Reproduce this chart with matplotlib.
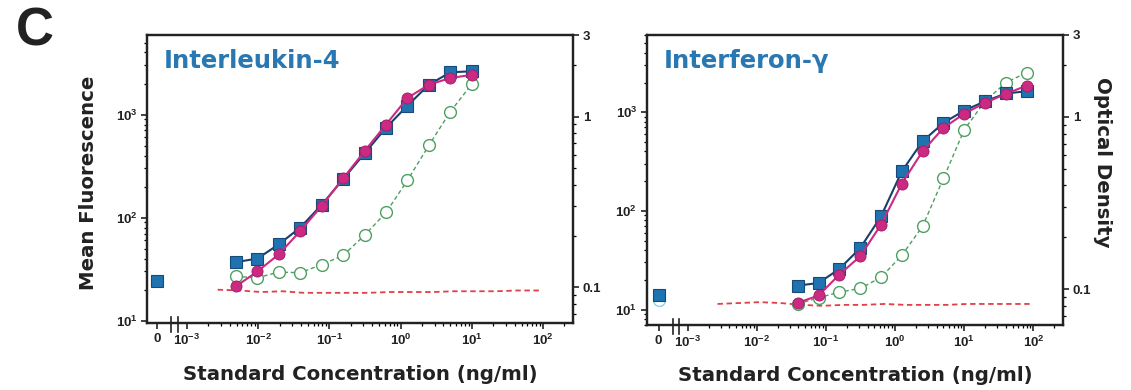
import numpy as np
import matplotlib
matplotlib.use("Agg")
import matplotlib.pyplot as plt
from matplotlib.ticker import FixedLocator, FixedFormatter, NullFormatter

plt.rcParams['font.family'] = ['Liberation Sans', 'DejaVu Sans']
plt.rcParams['mathtext.fontset'] = 'custom'
plt.rcParams['mathtext.rm'] = 'Liberation Sans:bold'
plt.rcParams['mathtext.bf'] = 'Liberation Sans:bold'
plt.rcParams['mathtext.default'] = 'rm'

# ---- Interleukin-4 ----
il4_conc = [0.00488, 0.00977, 0.0195, 0.039, 0.078, 0.156, 0.3125, 0.625, 1.25, 2.5, 5, 10]
il4_mfi_a = [37, 40, 55, 80, 133, 236, 420, 745, 1220, 1950, 2570, 2630]     # blue squares
il4_mfi_b = [21.5, 30, 44, 74, 130, 240, 442, 800, 1450, 1950, 2260, 2430]   # magenta circles
il4_od = [0.116, 0.114, 0.123, 0.122, 0.136, 0.154, 0.202, 0.275, 0.424, 0.68, 1.07, 1.55]
il4_zero_mfi = 24.3
blank_conc = [0.0027, 0.0055, 0.011, 0.022, 0.044, 0.088, 0.18, 0.35, 0.7, 1.4, 2.8, 5.6, 11, 22, 44, 88]
il4_blank_od = [0.097, 0.096, 0.094, 0.095, 0.093, 0.093, 0.093, 0.093, 0.094, 0.094,
                0.094, 0.095, 0.095, 0.095, 0.096, 0.096]

# ---- Interferon-gamma ----
ifn_conc = [0.039, 0.078, 0.156, 0.3125, 0.625, 1.25, 2.5, 5, 10, 20, 40, 80]
ifn_mfi_a = [17.5, 18.6, 25.8, 42, 88, 252, 508, 780, 1040, 1290, 1550, 1630]
ifn_mfi_b = [11.7, 13.9, 22.6, 34.7, 72.6, 189, 403, 693, 968, 1243, 1535, 1860]
ifn_od = [0.082, 0.089, 0.096, 0.101, 0.117, 0.157, 0.232, 0.44, 0.843, 1.235, 1.58, 1.81]
ifn_zero_mfi = 14.2
ifn_zero_od = 0.086
ifn_blank_od = [0.082, 0.083, 0.084, 0.083, 0.081, 0.080, 0.081, 0.081, 0.082, 0.081,
                0.081, 0.081, 0.082, 0.082, 0.082, 0.082]

zero_pos = 10 ** -3.42
decades = [1e-3, 1e-2, 1e-1, 1e0, 1e1, 1e2]
x_labels = ["0", "$10^{-3}$", "$10^{-2}$", "$10^{-1}$", "$10^{0}$", "$10^{1}$", "$10^{2}$"]

BLUE = "#1f73b0"
MAGENTA = "#cc2a82"
GREEN = "#4f9f62"
RED = "#e0404a"
TITLE_BLUE = "#2a78b2"
INK = "#222222"
LABEL_FONT = dict(family="DejaVu Sans", fontsize=14.2, fontweight="bold", color=INK)

fig = plt.figure(figsize=(11.31, 3.9), dpi=100)


def panel(rect, title, conc, mfi_a, mfi_b, od, zero_mfi, blank_od, ylim, xlim,
          xlabel_y, zero_od=None):
    ax = fig.add_axes(rect)
    ax2 = ax.twinx()
    ax.set_zorder(ax2.get_zorder() + 1)
    ax.patch.set_visible(False)

    ax.set_xscale("log")
    ax.set_yscale("log")
    ax2.set_yscale("log")

    # OD series on the right axis
    ax2.plot(blank_conc, blank_od, ls="--", color=RED, lw=1.3, dashes=(3, 2))
    ax2.plot(conc, od, ls="--", color=GREEN, lw=1.0, dashes=(3, 2),
             marker="o", ms=8.5, mfc="white", mec=GREEN, mew=1.0)
    if zero_od is not None:
        ax2.plot([zero_pos], [zero_od], ls="none", marker="o", ms=8.5,
                 mfc="white", mec="#8fd0e6", mew=1.0)

    # fluorescence series on the left axis
    ax.plot(conc, mfi_a, color="#17406e", lw=1.5, marker="s", ms=8.5,
            mfc=BLUE, mec="#174a7a", mew=0.8, zorder=3)
    ax.plot(conc, mfi_b, color=MAGENTA, lw=1.5, marker="o", ms=8,
            mfc=MAGENTA, mec="#9a1f62", mew=0.6, zorder=4)
    ax.plot([zero_pos], [zero_mfi], ls="none", marker="s", ms=8.5,
            mfc=BLUE, mec="#174a7a", mew=0.8, zorder=3)

    ax.set_xlim(*xlim)
    ax.set_ylim(*ylim)
    ax2.set_ylim(0.062, 3.0)

    # x ticks with axis break
    ax.xaxis.set_major_locator(FixedLocator([zero_pos] + decades))
    ax.xaxis.set_major_formatter(FixedFormatter(x_labels))
    minors = [m * d for d in decades for m in range(2, 10)]
    ax.xaxis.set_minor_locator(FixedLocator(minors))
    ax.xaxis.set_minor_formatter(NullFormatter())
    trans = ax.get_xaxis_transform()
    for bx in [10 ** -3.22, 10 ** -3.13]:
        ax.plot([bx, bx], [-0.03, 0.02], color=INK, lw=1.2,
                transform=trans, clip_on=False)

    ax2.yaxis.set_major_locator(FixedLocator([0.1, 1, 3]))
    ax2.yaxis.set_major_formatter(FixedFormatter(["0.1", "1", "3"]))
    ax2.yaxis.set_minor_locator(FixedLocator([0.07, 0.08, 0.09, 0.2, 0.3, 0.4, 0.5,
                                              0.6, 0.7, 0.8, 0.9, 2]))
    ax2.yaxis.set_minor_formatter(NullFormatter())

    for a in (ax, ax2):
        a.tick_params(which="major", length=4, width=1.2, labelsize=9.5,
                      colors=INK, pad=3)
        a.tick_params(which="minor", length=2.5, width=0.9)
        for s in a.spines.values():
            s.set_linewidth(1.6)
            s.set_color(INK)
        for lab in a.get_xticklabels() + a.get_yticklabels():
            lab.set_fontweight("bold")

    ax.text(0.04, 0.95, title, transform=ax.transAxes, color=TITLE_BLUE,
            family="DejaVu Sans", fontsize=17.5, fontweight="bold",
            va="top", ha="left")
    ax.set_xlabel("Standard Concentration (ng/ml)", **LABEL_FONT)
    ax.xaxis.set_label_coords(0.5, xlabel_y)
    return ax, ax2


axL, axL2 = panel([0.130, 0.172, 0.3766, 0.738], "Interleukin-4",
                  il4_conc, il4_mfi_a, il4_mfi_b, il4_od, il4_zero_mfi,
                  il4_blank_od, (9.5, 5900), (10 ** -3.56, 10 ** 2.42), -0.145)
axR, axR2 = panel([0.572, 0.167, 0.368, 0.744], "Interferon-γ",
                  ifn_conc, ifn_mfi_a, ifn_mfi_b, ifn_od, ifn_zero_mfi,
                  ifn_blank_od, (7.0, 6100), (10 ** -3.59, 10 ** 2.43), -0.141,
                  zero_od=ifn_zero_od)

fig.text(0.078, 0.53, "Mean Fluorescence", rotation=90, ha="center", va="center",
         **LABEL_FONT)
fig.text(0.975, 0.585, "Optical Density", rotation=270, ha="center", va="center",
         **LABEL_FONT)

fig.text(0.031, 0.92, "C", fontsize=38, fontweight="bold", color=INK,
         ha="center", va="center")

fig.savefig("out.png", dpi=100)
